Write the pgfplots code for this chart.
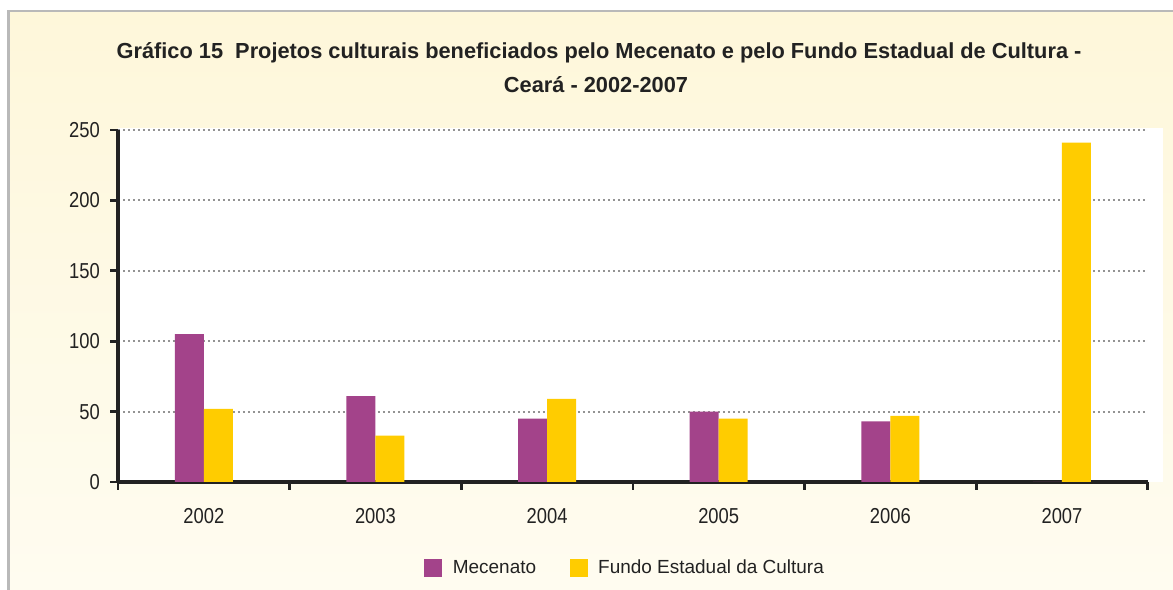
\documentclass[border=0pt]{standalone}
\usepackage{fontspec}
\setmainfont{Liberation Sans}
\newfontfamily\narrowfont{Liberation Sans}[FakeStretch=0.85]
\usepackage{pgfplots}
\pgfplotsset{compat=1.18}
\definecolor{mec}{HTML}{A3438A}
\definecolor{fec}{HTML}{FFCC00}
\definecolor{cream}{HTML}{FEF7DA}
\definecolor{txt}{HTML}{222222}

\begin{document}
\begin{tikzpicture}[x=0.02cm,y=0.02cm]
% page frame, 1 unit = 1 pixel of the reference
\path[use as bounding box] (0,0) rectangle (1173,590);
\shade[top color=cream, bottom color=white!60!cream] (8.5,0) rectangle (1173,579);
\draw[gray!55, line width=0.05cm] (8.5,0) -- (8.5,579) -- (1173,579);
\fill[white] (118,108) rectangle (1163,462);
\coordinate (O) at (118,108);

\node[anchor=base, font=\bfseries\fontsize{12.4}{15}\selectfont, text=txt] at (599,531)
  {Gráfico 15\ \ Projetos culturais beneficiados pelo Mecenato e pelo Fundo Estadual de Cultura -};
\node[anchor=base, font=\bfseries\fontsize{12.4}{15}\selectfont, text=txt] at (596,497)
  {Ceará - 2002-2007};

\begin{axis}[
  at={(O)}, anchor=south west,
  scale only axis, width=20.6cm, height=7.04cm,
  xmin=-0.5, xmax=5.5, ymin=0, ymax=250,
  axis x line*=bottom, axis y line*=left,
  axis line style={line width=0.07cm, txt},
  ybar=0pt, bar width=0.58cm,
  xtick={0,...,5}, xticklabels={2002,2003,2004,2005,2006,2007},
  major x tick style={draw=none},
  minor xtick={-0.5,0.5,...,5.5},
  minor x tick style={line width=0.055cm, txt},
  minor tick length=0.16cm,
  ytick={0,50,...,250},
  y tick style={line width=0.055cm, txt},
  major tick length=0.16cm,
  tick align=outside,
  ymajorgrids,
  grid style={gray!85, line width=0.04cm, dash pattern=on 0.035cm off 0.065cm},
  /pgf/number format/assume math mode=true,
  ticklabel style={font=\narrowfont\fontsize{12.3}{14}\selectfont, text=txt},
  xticklabel style={yshift=-0.24cm},
  yticklabel style={xshift=-0.08cm},
  legend columns=2,
  legend style={draw=none, fill=none, inner sep=0pt,
    at={(0.2971,-0.2443)}, anchor=west,
    font=\fontsize{10.8}{13}\selectfont, text=txt,
    /tikz/every odd column/.append style={column sep=0.14cm},
    /tikz/every even column/.append style={column sep=0.6cm}},
  legend image code/.code={\fill[#1] (0cm,-0.18cm) rectangle (0.36cm,0.18cm);},
]
\addplot[fill=mec, draw=none] coordinates {(0,105) (1,61) (2,45) (3,50) (4,43) (5,0)};
\addplot[fill=fec, draw=none] coordinates {(0,52) (1,33) (2,59) (3,45) (4,47) (5,241)};
\legend{Mecenato, Fundo Estadual da Cultura}
\end{axis}
\end{tikzpicture}
\end{document}
